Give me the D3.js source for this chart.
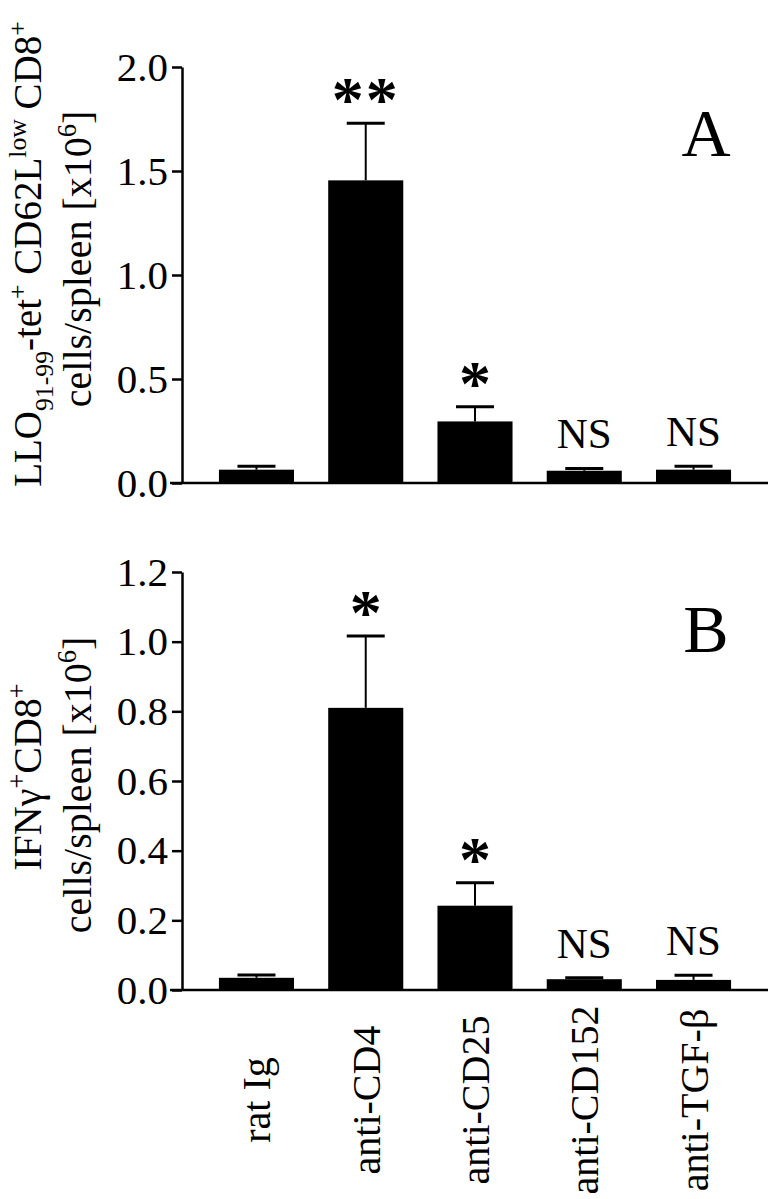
<!DOCTYPE html>
<html>
<head>
<meta charset="utf-8">
<script src="https://cdn.jsdelivr.net/npm/d3@7"></script>
<style>
  body { margin: 0; background: #fff; }
  text { font-family: "Liberation Serif", "Times New Roman", serif; fill: #000; }
</style>
</head>
<body>
<div id="chart"></div>
<script>
const categories = ['rat Ig', 'anti-CD4', 'anti-CD25', 'anti-CD152', 'anti-TGF-β'];

// panel A: LLO91-99 tetramer+ CD62L low CD8+ cells
const meanA = [0.064, 1.455, 0.296, 0.059, 0.064];
const errA = [0.016, 0.275, 0.071, 0.011, 0.016];
const sigA = ['', '**', '*', 'NS', 'NS'];
const ticksA = [0, 0.5, 1.0, 1.5, 2.0];

// panel B: IFNg+ CD8+ cells
const meanB = [0.035, 0.81, 0.242, 0.031, 0.029];
const errB = [0.008, 0.206, 0.066, 0.004, 0.013];
const sigB = ['', '*', '*', 'NS', 'NS'];
const ticksB = [0, 0.2, 0.4, 0.6, 0.8, 1.0, 1.2];

const W = 772, H = 1199;
const LEFT = 182, RIGHT = 768;

const svg = d3.select('#chart').append('svg')
  .attr('width', W)
  .attr('height', H);

const x = d3.scaleBand()
  .domain(categories)
  .range([LEFT, RIGHT])
  .paddingInner(0.313)
  .paddingOuter(0.338);

// writes a text made of normal / sub / sup runs
function richText(sel, parts, size) {
  let shift = 0;
  parts.forEach(([str, kind]) => {
    const target = kind === 'sub' ? size * 0.3 : kind === 'sup' ? -size * 0.38 : 0;
    sel.append('tspan')
      .attr('dy', target - shift)
      .attr('font-size', kind ? size * 0.66 : size)
      .text(str);
    shift = target;
  });
}

const panels = [
  {
    mean: meanA, err: errA, sig: sigA, ticks: ticksA,
    y: d3.scaleLinear().domain([0, 2.0]).range([483, 67]),
    letter: 'A', letterY: 156,
    title: [
      [['LLO'], ['91-99', 'sub'], ['-tet'], ['+', 'sup'], [' CD62L'], ['low', 'sup'], [' CD8'], ['+', 'sup']],
      [['cells/spleen [x10'], ['6', 'sup'], [']']]
    ],
    titleY: [254, 259], titleSize: [39, 40]
  },
  {
    mean: meanB, err: errB, sig: sigB, ticks: ticksB,
    y: d3.scaleLinear().domain([0, 1.2]).range([990, 572]),
    letter: 'B', letterY: 652,
    title: [
      [['IFNγ'], ['+', 'sup'], ['CD8'], ['+', 'sup']],
      [['cells/spleen [x10'], ['6', 'sup'], [']']]
    ],
    titleY: [777, 785], titleSize: [40, 40]
  }
];

panels.forEach((p, pi) => {
  const g = svg.append('g');
  const y = p.y;
  const base = y(0);

  // bars
  g.selectAll('rect.bar')
    .data(categories)
    .enter().append('rect')
      .attr('class', 'bar')
      .attr('x', d => x(d))
      .attr('width', x.bandwidth())
      .attr('y', (d, i) => y(p.mean[i]))
      .attr('height', (d, i) => base - y(p.mean[i]))
      .attr('fill', '#000');

  // error bars (upper only)
  const cx = d => x(d) + x.bandwidth() / 2;
  g.selectAll('line.err')
    .data(categories)
    .enter().append('line')
      .attr('class', 'err')
      .attr('x1', cx).attr('x2', cx)
      .attr('y1', (d, i) => y(p.mean[i]))
      .attr('y2', (d, i) => y(p.mean[i] + p.err[i]))
      .attr('stroke', '#000')
      .attr('stroke-width', 2);

  g.selectAll('line.cap')
    .data(categories)
    .enter().append('line')
      .attr('class', 'cap')
      .attr('x1', d => cx(d) - 19).attr('x2', d => cx(d) + 19)
      .attr('y1', (d, i) => y(p.mean[i] + p.err[i]))
      .attr('y2', (d, i) => y(p.mean[i] + p.err[i]))
      .attr('stroke', '#000')
      .attr('stroke-width', 3);

  // significance marks
  g.selectAll('text.sig')
    .data(categories)
    .enter().append('text')
      .attr('class', 'sig')
      .attr('x', cx)
      .attr('y', (d, i) => {
        const top = y(p.mean[i] + p.err[i]);
        return p.sig[i] === 'NS' ? top - 20 : top - 2;
      })
      .attr('text-anchor', 'middle')
      .attr('font-size', (d, i) => p.sig[i] === 'NS' ? 43 : 64)
      .attr('font-weight', (d, i) => p.sig[i] === 'NS' ? 'normal' : 'bold')
      .attr('letter-spacing', (d, i) => p.sig[i] === '**' ? 2 : 0)
      .text((d, i) => p.sig[i]);

  // y axis
  const yAxis = g.append('g')
    .attr('transform', `translate(${LEFT},0)`)
    .call(d3.axisLeft(y).tickValues(p.ticks).tickFormat(d3.format('.1f'))
      .tickSize(10).tickSizeOuter(0).tickPadding(4));
  yAxis.select('.domain').attr('stroke-width', 2.5);
  yAxis.selectAll('.tick line').attr('stroke-width', 2.5);
  yAxis.selectAll('.tick text')
    .attr('font-size', 41)
    .attr('font-family', '"Liberation Serif", serif');

  // x axis line (baseline)
  const xAxis = g.append('g')
    .attr('transform', `translate(0,${base})`)
    .call(d3.axisBottom(x).tickSize(0).tickSizeOuter(0).tickPadding(0));
  xAxis.select('.domain')
    .attr('d', `M${LEFT - 12},0H${RIGHT}`)
    .attr('stroke-width', 2.5);

  if (pi === 0) {
    xAxis.selectAll('.tick text').remove();
  } else {
    xAxis.selectAll('.tick text')
      .attr('font-size', 40)
      .attr('font-family', '"Liberation Serif", serif')
      .attr('text-anchor', 'middle')
      .attr('transform', 'translate(0,110) rotate(-90)')
      .attr('y', 0)
      .attr('dy', '0.35em');
  }

  // panel letter
  g.append('text')
    .attr('x', 706)
    .attr('y', p.letterY)
    .attr('text-anchor', 'middle')
    .attr('font-size', 68)
    .text(p.letter);

  // y title, two lines
  const lineX = [41, 91];
  p.title.forEach((parts, li) => {
    const t = g.append('text')
      .attr('transform', `translate(${lineX[li]},${p.titleY[li]}) rotate(-90)`)
      .attr('text-anchor', 'middle');
    richText(t, parts, p.titleSize[li]);
  });
});
</script>
</body>
</html>
